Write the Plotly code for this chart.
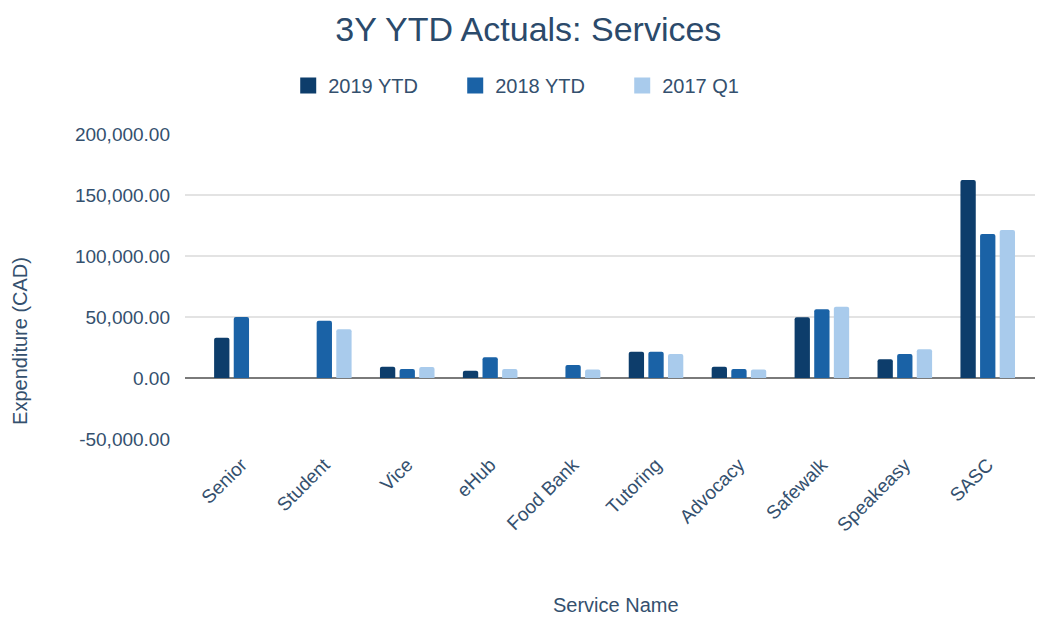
import plotly.graph_objects as go

services = ["Senior", "Student", "Vice", "eHub", "Food Bank", "Tutoring",
            "Advocacy", "Safewalk", "Speakeasy", "SASC"]
ytd_2019 = [33000, None, 9300, 6000, None, 21500, 9300, 49700, 15300, 162300]
ytd_2018 = [50000, 47000, 7400, 17000, 10600, 21500, 7400, 56300, 19700, 118000]
q1_2017 = [None, 40000, 9000, 7400, 7000, 19700, 7000, 58500, 23500, 121300]
y_ticks = [-50000, 0, 50000, 100000, 150000, 200000]

series = [
    ("2019 YTD", ytd_2019, "#0d3d6b"),
    ("2018 YTD", ytd_2018, "#1a62a6"),
    ("2017 Q1", q1_2017, "#a9cbec"),
]

text_color = "#34506e"
font_family = "Liberation Sans, Arial, sans-serif"

fig = go.Figure()
for name, vals, color in series:
    fig.add_trace(go.Bar(name=name, x=services, y=vals, marker_color=color,
                         marker_line_width=0, showlegend=False))
# legend entries with larger square swatches
for name, vals, color in series:
    fig.add_trace(go.Scatter(name=name, x=[None], y=[None], mode="markers",
                             marker=dict(symbol="square", size=16, color=color)))

fig.update_layout(
    width=1040, height=619,
    paper_bgcolor="white", plot_bgcolor="white",
    barmode="group", bargap=0.29, bargroupgap=0.22, barcornerradius=2,
    margin=dict(l=185, r=5, t=134, b=180),
    font=dict(family=font_family, color=text_color),
    title=dict(text="3Y YTD Actuals: Services", x=0.508, xanchor="center",
               xref="container", y=0.953, yanchor="middle",
               font=dict(size=34, color="#2b4a6b")),
    legend=dict(orientation="h", x=0.518, xanchor="center", xref="container",
                y=0.862, yanchor="middle", yref="container",
                font=dict(size=20, color=text_color),
                entrywidth=122, entrywidthmode="pixels",
                traceorder="normal"),
    showlegend=True,
    annotations=[
        dict(text="Expenditure (CAD)", textangle=-90, showarrow=False,
             xref="paper", yref="paper", x=-0.194, y=0.322,
             xanchor="center", yanchor="middle",
             font=dict(size=20, color=text_color)),
        dict(text="Service Name", showarrow=False,
             xref="paper", yref="paper", x=0.507, y=-0.544,
             xanchor="center", yanchor="middle",
             font=dict(size=20, color=text_color)),
    ],
)

# hyphen-minus labels with two decimals
tick_text = [f"{v:,.2f}" for v in y_ticks]

fig.update_yaxes(
    range=[-50000, 200000], tickvals=y_ticks, ticktext=tick_text,
    tickfont=dict(size=19, color=text_color),
    gridcolor="#e3e3e3", gridwidth=1.5,
    zeroline=True, zerolinecolor="#7a7a7a", zerolinewidth=2,
    ticklabelstandoff=14, automargin=False,
)
fig.update_xaxes(
    range=[-0.68, 9.57],
    tickangle=-45, tickfont=dict(size=19, color=text_color),
    showgrid=False, showline=False, ticklabelstandoff=10, automargin=False,
)

fig.write_html("out.html")
